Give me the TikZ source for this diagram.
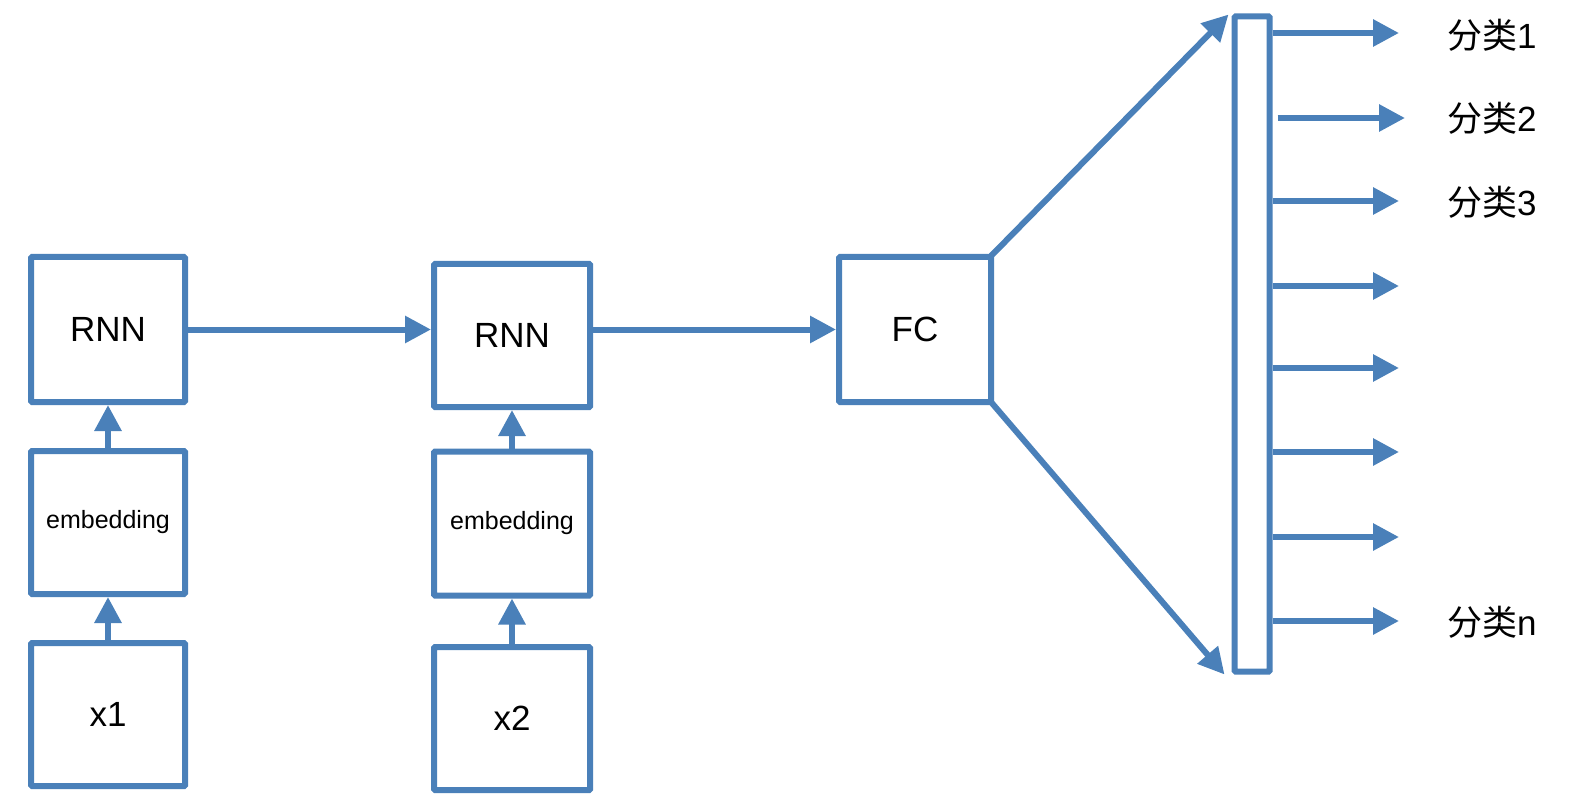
\documentclass[tikz,border=0pt]{standalone}
\usepackage{fontspec}
\setmainfont{Liberation Sans}
\newfontfamily\cjk{Noto Sans CJK SC}
\usetikzlibrary{arrows.meta,shadows,calc}
\definecolor{boxblue}{RGB}{74,128,185}
\tikzset{
  blk/.style={draw=boxblue, line width=6pt, fill=white, rectangle, rounded corners=1pt,
    inner sep=0pt, font=\fontsize{35}{40}\selectfont,
    drop shadow={shadow xshift=2pt, shadow yshift=-2pt, opacity=0.18}},
  embtxt/.style={font=\fontsize{25}{30}\selectfont},
  conn/.style={draw=boxblue, line width=6pt, -{Triangle[length=26pt,width=26pt]}},
  lbl/.style={anchor=west, inner sep=0pt, font=\fontsize{35}{40}\selectfont}
}
\begin{document}
\begin{tikzpicture}[x=1pt,y=-1pt]
\useasboundingbox (0,0) rectangle (1574,802);
% column 1
\node[blk, minimum width=154pt, minimum height=145pt] (rnn1) at (108,329.5) {RNN};
\node[blk, embtxt, minimum width=154pt, minimum height=143pt] (emb1) at (108,522.5) {embedding};
\node[blk, minimum width=154pt, minimum height=143pt] (x1) at (108,714.5) {x1};
% column 2
\node[blk, minimum width=156pt, minimum height=143pt] (rnn2) at (512,335.5) {RNN};
\node[blk, embtxt, minimum width=156pt, minimum height=144pt] (emb2) at (512,523.5) {embedding};
\node[blk, minimum width=156pt, minimum height=143pt] (x2) at (512,718.5) {x2};
% FC
\node[blk, minimum width=152pt, minimum height=145pt] (fc) at (915,329.5) {FC};
% output bar
\node[blk, minimum width=35pt, minimum height=655pt] (bar) at (1252,344) {};
% vertical arrows
\draw[conn] (x1) -- (emb1);
\draw[conn] (emb1) -- (rnn1);
\draw[conn] (x2) -- (emb2);
\draw[conn] (emb2) -- (rnn2);
% horizontal arrows
\draw[conn] (rnn1.east) -- (rnn1.east -| rnn2.west);
\draw[conn] (rnn2.east |- fc.west) -- (fc.west);
% diagonals
\coordinate (ut) at ($(bar.north west)+(-3,1)$);
\coordinate (lt) at ($(bar.south west)+(-7,0)$);
\draw[conn] ($(fc.north east)+(-4,3)$) -- (ut);
\draw[conn] ($(fc.south east)+(-3,-3)$) -- (lt);
% outputs
\coordinate (t1) at (1399,33);
\coordinate (t2) at (1405,118);
\coordinate (t3) at (1399,201);
\coordinate (t4) at (1399,286);
\coordinate (t5) at (1399,368);
\coordinate (t6) at (1399,452);
\coordinate (t7) at (1399,537);
\coordinate (t8) at (1399,621);
\draw[conn] (bar.east |- t1) -- (t1);
\draw[conn] ($(bar.east |- t2)+(5,0)$) -- (t2);
\draw[conn] (bar.east |- t3) -- (t3);
\draw[conn] (bar.east |- t4) -- (t4);
\draw[conn] (bar.east |- t5) -- (t5);
\draw[conn] (bar.east |- t6) -- (t6);
\draw[conn] (bar.east |- t7) -- (t7);
\draw[conn] (bar.east |- t8) -- (t8);
% labels
\node[lbl] (l1) at (1447,35) {{\cjk 分类}1};
\node[lbl] (l2) at (1447,118) {{\cjk 分类}2};
\node[lbl] (l3) at (1447,202) {{\cjk 分类}3};
\node[lbl] (ln) at (1447,622) {{\cjk 分类}n};
\end{tikzpicture}
\end{document}
